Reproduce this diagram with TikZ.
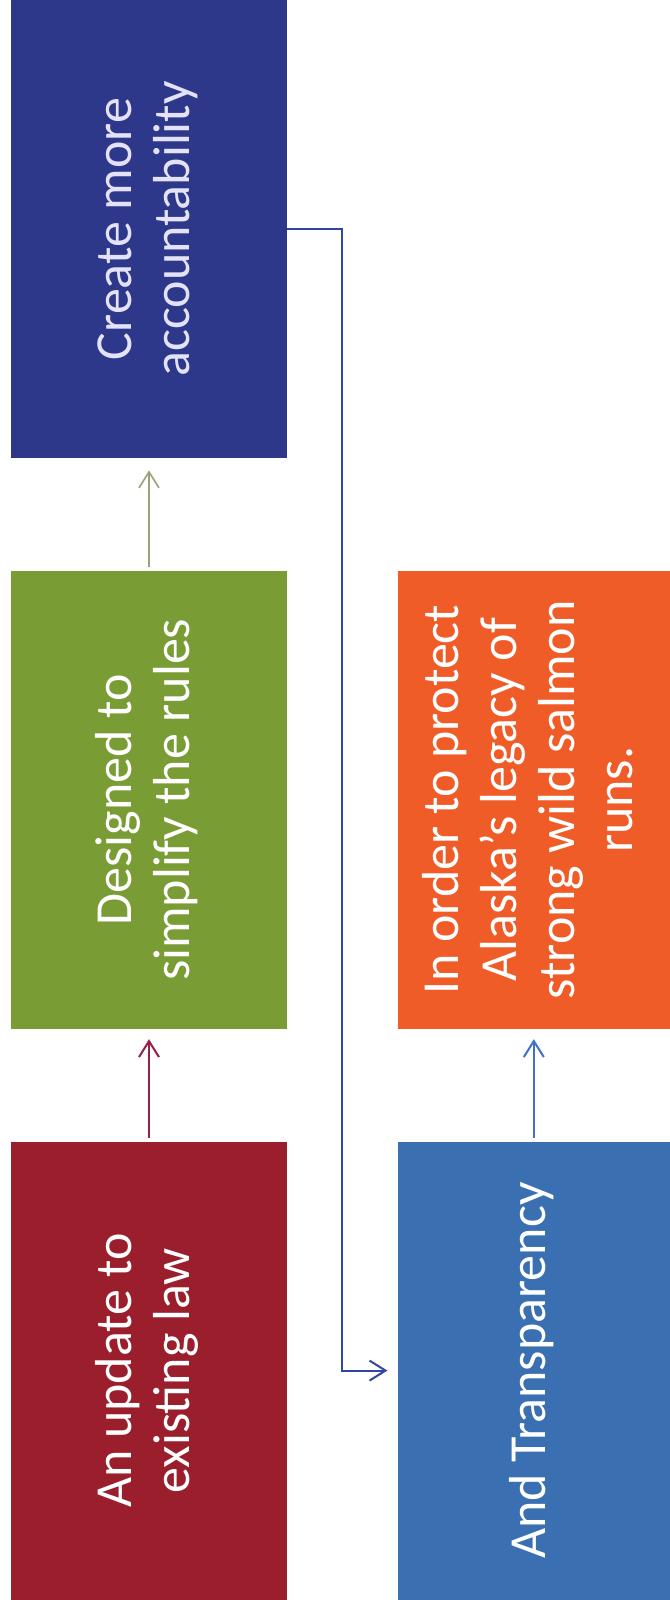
\documentclass[tikz,border=0pt]{standalone}
\usepackage{fontspec}
\setmainfont{Carlito}
\usepackage{graphicx}
\usepackage{tikz}
\usetikzlibrary{positioning, arrows.meta}
\definecolor{boxnavy}{RGB}{46, 56, 138}
\definecolor{boxgreen}{RGB}{122, 156, 52}
\definecolor{boxred}{RGB}{154, 30, 44}
\definecolor{boxorange}{RGB}{240, 92, 40}
\definecolor{boxblue}{RGB}{58, 111, 178}
\definecolor{linkgreen}{RGB}{150, 162, 122}
\definecolor{linkred}{RGB}{150, 32, 72}
\definecolor{linkblue}{RGB}{66, 112, 196}
\definecolor{linknavy}{RGB}{50, 70, 165}
\definecolor{palefont}{RGB}{228, 226, 248}
\newcommand{\turntext}[1]{\rotatebox{90}{\begin{tabular}{@{}c@{}}#1\end{tabular}}}

\tikzset{
  stage/.style={minimum width=138pt, minimum height=229pt, inner sep=0pt,
                text=white, font=\fontsize{26}{29}\selectfont},
  link/.style={line width=1pt, -{Straight Barb[length=8pt, width=10pt]},
               shorten >=5pt, shorten <=1.5pt}
}

\begin{document}
\begin{tikzpicture}
  \useasboundingbox (0,0) rectangle (334.5pt,800pt);
  % left column
  \node[stage, fill=boxnavy, text=palefont] (account) at (74.5pt,685.5pt)
       {\turntext{Create more\\accountability}};
  \node[stage, fill=boxgreen, below=56pt of account] (simplify)
       {\turntext{Designed to\\simplify the rules}};
  \node[stage, fill=boxred, below=56pt of simplify] (update)
       {\turntext{An update to\\existing law}};
  % right column
  \node[stage, fill=boxorange, minimum width=136pt, right=55pt of simplify] (protect)
       {\turntext{In order to protect\\Alaska’s legacy of\\strong wild salmon\\runs.}};
  \node[stage, fill=boxblue, minimum width=136pt, right=55pt of update] (transp)
       {\turntext{And Transparency}};
  % arrows
  \draw[link, linkgreen, line width=0.8pt, shorten >=6pt] (simplify.north) -- (account.south);
  \draw[link, linkred] (update.north) -- (simplify.south);
  \draw[link, linkblue] (transp.north) -- (protect.south);
  \draw[link, linknavy, shorten <=0pt] (account.east) -- ++(27.5pt,0) |- (transp.west);
\end{tikzpicture}
\end{document}
